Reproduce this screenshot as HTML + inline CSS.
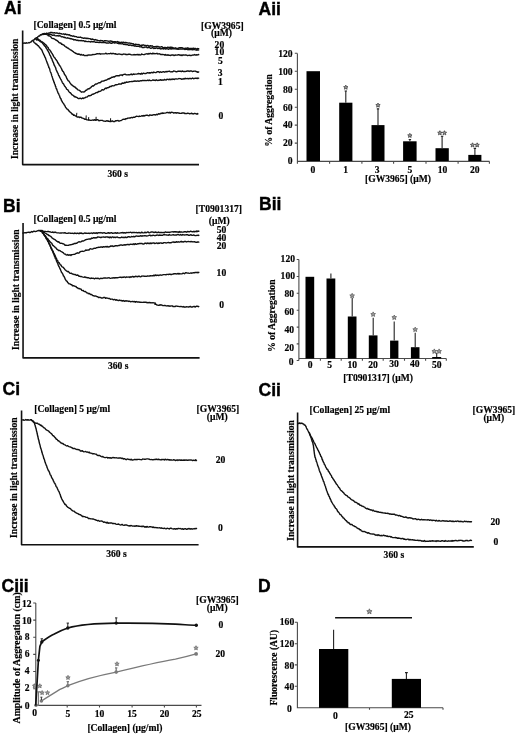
<!DOCTYPE html>
<html><head><meta charset="utf-8">
<style>
html,body{margin:0;padding:0;background:#fff;}
body{width:520px;height:737px;overflow:hidden;}
svg{display:block;will-change:transform;}
.t{font-family:"Liberation Serif",serif;font-weight:bold;font-size:9.6px;fill:#000;stroke:#000;stroke-width:0.18px;}
.L{font-family:"Liberation Sans",sans-serif;font-weight:bold;font-size:17.5px;fill:#000;stroke:#000;stroke-width:0.4px;}
.c{fill:none;stroke:#111;stroke-width:1.4;stroke-linejoin:round;stroke-linecap:round;}
.ax{fill:none;stroke:#4a4a4a;stroke-width:1.1;}
.axT{fill:none;stroke:#111;stroke-width:1.6;stroke-linejoin:round;}
.bar{fill:#000;}
.eb{fill:none;stroke:#222;stroke-width:1.1;}
</style></head><body>
<svg width="520" height="737" viewBox="0 0 520 737">
<text class="L" x="4" y="13.8">Ai</text>
<text class="t" x="33.5" y="27.5">[Collagen] 0.5 &#956;g/ml</text>
<text class="t" x="201" y="28.6">[GW3965]</text>
<text class="t" x="211" y="36.3">(&#956;M)</text>
<text class="t" x="214.6" y="47.6">20</text>
<text class="t" x="214.6" y="55.1">10</text>
<text class="t" x="218" y="64.2">5</text>
<text class="t" x="217.8" y="75.9">3</text>
<text class="t" x="218" y="85">1</text>
<text class="t" x="218.5" y="118.8">0</text>
<text class="t" transform="translate(18.3,159.1) rotate(-90)" style="font-size:9.6px">Increase in light transmission</text>
<text class="t" x="107.4" y="177.3">360 s</text>
<path class="axT" d="M22.65,30.5 V164.6 H199"/>
<polyline class="c" points="23.00,43.30 23.54,43.11 24.29,42.92 25.18,43.33 26.16,42.76 27.15,43.12 28.10,42.89 28.94,42.52 29.60,42.81 30.69,41.97 31.29,41.80 31.90,40.91 32.67,40.35 33.43,40.04 34.20,39.79 34.97,38.59 35.73,38.11 36.50,37.91 37.22,37.64 37.94,36.74 38.80,36.01 39.54,36.07 40.33,34.75 41.24,35.03 42.30,34.11 43.03,33.78 43.86,33.57 44.75,33.57 45.66,33.87 46.55,33.16 47.38,33.39 48.10,33.33 49.06,32.92 49.80,32.95 50.54,32.43 51.50,32.40 52.18,32.54 52.92,33.00 53.70,32.81 54.53,32.77 55.41,33.09 56.33,33.06 57.30,33.02 58.02,33.54 58.77,33.54 59.56,33.23 60.37,33.62 61.21,33.69 62.05,34.11 62.90,34.10 63.74,33.83 64.58,34.59 65.40,33.96 66.21,34.38 67.00,34.85 67.80,34.48 68.59,34.96 69.38,34.75 70.18,35.50 70.99,35.78 71.81,35.80 72.65,36.26 73.50,35.93 74.26,36.43 75.00,36.49 75.71,36.62 76.42,36.64 77.15,37.13 77.91,37.37 78.71,37.09 79.58,37.41 80.52,37.04 81.56,37.79 82.70,37.93 83.35,38.35 84.02,38.31 84.72,37.95 85.45,38.17 86.20,38.55 86.97,38.10 87.77,38.63 88.58,38.51 89.41,38.60 90.25,38.69 91.10,39.47 91.97,39.03 92.85,39.28 93.73,39.55 94.62,40.11 95.52,39.53 96.42,39.99 97.32,40.21 98.21,40.63 99.11,40.68 100.00,40.83 100.75,40.38 101.52,40.59 102.29,40.61 103.08,41.15 103.87,41.29 104.67,40.62 105.48,40.71 106.29,40.82 107.11,40.88 107.94,41.16 108.76,41.31 109.59,41.07 110.41,40.89 111.24,41.31 112.06,41.32 112.89,41.56 113.71,41.96 114.52,41.78 115.33,41.68 116.13,41.84 116.92,41.96 117.71,41.47 118.48,42.30 119.25,42.27 120.00,42.44 120.88,42.47 121.75,42.22 122.61,42.34 123.46,42.19 124.31,42.79 125.14,42.40 125.97,42.54 126.79,42.80 127.60,42.89 128.41,43.18 129.22,43.06 130.03,43.15 130.83,43.42 131.63,43.50 132.44,43.87 133.24,43.69 134.04,44.58 134.85,44.47 135.66,44.17 136.48,44.37 137.30,44.56 138.12,44.68 138.95,44.56 139.77,45.31 140.60,45.53 141.42,45.14 142.24,45.25 143.07,44.98 143.89,45.07 144.71,45.37 145.54,45.38 146.36,45.97 147.19,45.44 148.01,45.39 148.83,46.30 149.66,46.00 150.48,45.72 151.30,46.15 152.13,45.76 152.95,46.28 153.78,46.76 154.60,46.73 155.42,46.65 156.25,46.33 157.07,46.49 157.90,46.38 158.72,47.00 159.54,46.85 160.37,47.14 161.19,46.81 162.01,46.78 162.84,47.37 163.66,47.59 164.49,47.54 165.31,47.56 166.13,47.63 166.96,47.61 167.78,47.21 168.60,47.52 169.43,47.43 170.25,47.19 171.08,47.23 171.90,47.50 172.73,47.52 173.58,47.95 174.44,48.22 175.31,47.80 176.19,48.27 177.07,48.34 177.96,48.34 178.84,47.83 179.72,47.72 180.60,47.74 181.47,47.74 182.33,47.76 183.18,48.16 184.01,48.42 184.83,48.39 185.62,48.08 186.39,48.25 187.14,48.41 187.86,47.78 188.54,48.32 189.20,48.57 190.39,48.50 191.53,48.52 192.61,48.33 193.63,48.11 194.58,48.72 195.46,48.36 196.27,48.83 197.01,49.02 197.66,48.55 198.22,48.58 198.70,48.70"/>
<polyline class="c" points="48.10,34.30 48.57,34.77 49.14,34.66 49.80,34.25 50.54,34.32 51.35,34.45 52.22,35.25 53.12,35.29 54.06,34.84 55.01,35.60 55.97,35.89 56.92,35.75 57.85,35.63 58.75,35.98 59.60,35.77 60.44,35.84 61.30,36.90 62.19,36.82 63.08,36.92 63.98,37.52 64.87,37.30 65.76,37.93 66.64,38.12 67.49,37.79 68.31,38.05 69.10,38.29 69.85,38.44 70.55,38.92 71.20,38.78 72.30,39.18 73.19,39.11 73.93,39.96 74.60,39.58 75.27,39.79 76.01,40.03 76.90,40.46 77.58,40.15 78.26,40.71 78.94,40.46 79.64,40.61 80.37,40.73 81.15,40.40 81.99,40.90 82.90,40.79 83.90,40.74 85.00,41.57 85.66,41.07 86.34,41.39 87.04,41.68 87.77,41.58 88.53,41.43 89.30,41.66 90.10,41.74 90.92,42.00 91.76,41.45 92.61,41.91 93.48,41.68 94.37,41.76 95.28,42.26 96.20,42.08 97.13,42.18 98.08,42.42 99.03,42.61 100.00,42.25 100.71,42.44 101.44,42.39 102.18,42.43 102.95,42.64 103.72,42.46 104.51,42.57 105.31,42.55 106.12,43.01 106.94,42.83 107.77,43.02 108.60,43.12 109.44,42.54 110.28,42.86 111.12,43.24 111.95,43.19 112.79,42.61 113.63,42.64 114.45,42.98 115.28,42.71 116.09,42.91 116.90,42.83 117.69,43.43 118.48,43.60 119.25,43.78 120.00,43.19 120.88,43.80 121.75,43.86 122.61,43.51 123.46,44.31 124.31,44.52 125.14,43.98 125.97,44.79 126.79,44.44 127.60,44.67 128.41,45.28 129.22,45.29 130.03,44.84 130.83,45.24 131.63,45.47 132.44,45.46 133.24,45.47 134.04,45.73 134.85,46.23 135.66,45.73 136.48,46.33 137.30,46.35 138.12,46.08 138.95,46.47 139.77,46.84 140.60,46.84 141.42,46.53 142.24,47.46 143.07,47.38 143.89,47.64 144.71,46.95 145.54,47.18 146.36,47.06 147.19,47.81 148.01,47.43 148.83,47.38 149.66,47.72 150.48,48.23 151.30,48.22 152.13,47.79 152.95,47.76 153.78,48.51 154.60,48.26 155.42,48.44 156.25,47.95 157.07,47.97 157.90,48.59 158.72,48.40 159.54,48.13 160.37,48.95 161.19,48.72 162.01,48.91 162.84,48.30 163.66,49.03 164.49,48.35 165.31,49.10 166.13,48.76 166.96,48.68 167.78,48.91 168.60,49.27 169.43,48.71 170.25,48.61 171.08,49.00 171.90,48.76 172.73,48.68 173.58,48.75 174.44,48.67 175.31,48.83 176.19,48.95 177.07,48.97 177.96,49.39 178.84,48.99 179.72,49.19 180.60,48.92 181.47,49.09 182.33,48.81 183.18,49.03 184.01,48.84 184.83,49.50 185.62,49.35 186.39,49.04 187.14,49.32 187.86,49.75 188.54,49.02 189.20,49.69 190.39,49.38 191.53,49.49 192.61,49.84 193.63,49.50 194.58,49.65 195.46,49.87 196.27,50.18 197.01,49.66 197.66,50.14 198.22,50.06 198.70,49.90"/>
<polyline class="c" points="42.30,34.30 42.91,34.46 43.77,34.29 44.78,34.31 45.86,34.21 46.90,34.57 47.63,34.82 48.37,35.81 49.14,35.81 49.92,36.21 50.70,36.64 51.50,37.82 52.30,38.33 53.01,38.57 53.72,38.64 54.45,39.03 55.18,39.51 55.91,40.10 56.65,40.27 57.38,40.99 58.10,41.29 58.82,42.39 59.53,42.89 60.24,43.01 60.95,43.24 61.66,44.40 62.37,44.32 63.08,44.87 63.80,45.05 64.52,45.90 65.24,46.49 65.97,47.02 66.69,47.26 67.42,48.04 68.15,48.09 68.87,48.81 69.60,49.13 70.32,49.88 71.05,50.04 71.77,50.50 72.50,51.22 73.22,51.60 73.95,52.34 74.67,52.68 75.40,53.23 76.23,53.49 77.06,53.84 77.89,54.25 78.72,54.04 79.55,54.19 80.38,54.97 81.20,54.38 82.00,55.06 82.77,55.13 83.52,54.71 84.29,55.52 85.10,55.64 85.96,55.43 86.90,55.51 87.58,55.54 88.26,54.86 88.94,55.10 89.64,54.96 90.37,55.13 91.15,54.96 91.99,54.84 92.90,54.49 93.90,54.65 95.00,54.36 95.67,54.33 96.39,53.86 97.16,53.64 97.97,53.68 98.81,53.84 99.67,53.56 100.56,54.18 101.47,53.89 102.38,53.91 103.30,53.87 104.21,53.89 105.11,53.68 106.00,53.22 106.87,53.91 107.71,53.85 108.51,53.61 109.28,53.63 110.00,53.74 110.99,53.22 111.87,53.84 112.68,53.44 113.43,53.33 114.15,53.56 114.86,54.04 115.57,53.63 116.31,54.18 117.10,54.46 117.97,54.09 118.93,54.04 120.00,54.18 120.67,54.39 121.36,54.50 122.09,54.40 122.84,54.46 123.61,53.98 124.41,54.09 125.23,54.22 126.06,54.70 126.90,54.34 127.76,54.61 128.63,54.15 129.50,54.22 130.38,54.44 131.26,54.83 132.14,54.86 133.02,54.87 133.90,54.53 134.76,54.74 135.62,54.69 136.47,54.68 137.30,54.36 138.14,55.03 138.99,54.37 139.86,55.02 140.75,54.92 141.64,54.03 142.55,54.35 143.45,54.60 144.36,54.65 145.26,54.09 146.16,53.84 147.04,53.70 147.91,54.28 148.77,53.53 149.60,53.79 150.42,53.32 151.20,53.60 151.95,53.93 152.67,53.14 153.36,53.72 154.00,53.42 154.60,53.75 155.94,53.62 156.97,53.30 157.80,54.06 158.48,53.88 159.11,53.66 159.77,53.84 160.54,54.46 161.50,54.56 162.17,54.48 162.84,54.40 163.52,54.63 164.22,54.66 164.93,55.17 165.67,54.46 166.44,55.17 167.24,55.28 168.08,54.66 168.96,55.42 169.88,55.25 170.86,55.44 171.90,54.91 172.58,55.00 173.31,55.02 174.08,55.58 174.88,55.22 175.71,55.02 176.57,55.08 177.44,54.95 178.34,54.75 179.24,54.80 180.15,55.46 181.06,54.96 181.97,55.55 182.87,54.93 183.76,54.94 184.62,55.15 185.47,54.86 186.29,55.02 187.08,55.54 187.83,55.46 188.54,55.39 189.20,55.22 190.39,55.45 191.53,55.44 192.61,55.05 193.63,55.16 194.58,54.52 195.46,55.09 196.27,54.79 197.01,55.02 197.66,54.88 198.22,54.53 198.70,54.70"/>
<polyline class="c" points="36.50,37.80 36.76,37.77 37.70,39.38 38.18,38.99 38.77,39.68 39.45,39.99 40.19,40.41 40.95,41.29 41.71,42.00 42.43,41.87 43.10,42.74 43.71,42.93 44.31,43.68 44.88,44.05 45.45,44.39 46.01,44.95 46.57,45.59 47.13,46.87 47.70,47.20 48.16,47.55 48.62,48.81 49.08,49.57 49.54,49.79 50.00,50.23 50.46,51.02 50.92,51.66 51.38,52.63 51.84,53.13 52.30,53.97 52.76,54.68 53.24,55.67 53.71,56.66 54.19,57.25 54.67,57.65 55.14,58.35 55.60,59.14 56.05,59.69 56.48,60.31 56.90,60.71 57.38,61.65 57.83,62.97 58.24,62.88 58.65,63.88 59.06,64.66 59.47,65.56 59.92,65.73 60.40,66.59 60.78,67.22 61.17,68.04 61.58,68.80 61.99,70.00 62.42,70.67 62.85,71.46 63.28,71.47 63.72,72.25 64.15,73.62 64.58,74.53 65.00,74.88 65.45,75.76 65.90,76.03 66.34,77.17 66.78,78.44 67.22,79.12 67.67,79.91 68.13,80.76 68.60,80.83 69.09,81.39 69.60,82.09 70.19,83.10 70.79,83.89 71.40,84.72 72.04,85.10 72.68,85.59 73.34,86.23 74.01,86.49 74.70,87.11 75.40,87.19 76.06,88.37 76.75,88.43 77.46,89.62 78.19,89.95 78.93,90.19 79.65,90.55 80.36,91.12 81.05,91.85 81.70,92.20 82.30,91.85 83.16,91.86 83.87,92.07 84.52,91.74 85.19,91.04 85.96,90.28 86.90,89.99 87.44,89.13 88.02,89.02 88.62,88.75 89.24,88.77 89.89,88.04 90.56,87.79 91.26,86.95 91.97,86.26 92.70,85.80 93.45,85.98 94.22,85.31 95.00,84.53 95.69,83.92 96.42,84.00 97.18,83.81 97.95,83.24 98.75,82.75 99.56,82.78 100.37,82.68 101.18,81.72 101.99,81.22 102.80,81.17 103.58,80.93 104.35,80.86 105.09,80.12 105.80,80.37 106.66,79.95 107.50,79.38 108.30,78.75 109.09,79.09 109.85,78.16 110.61,78.30 111.36,77.45 112.11,77.14 112.86,77.35 113.62,76.66 114.40,77.01 115.19,76.37 116.00,75.88 116.81,75.73 117.63,75.72 118.45,75.79 119.26,75.89 120.06,75.04 120.85,75.13 121.63,74.85 122.38,75.43 123.10,74.58 124.05,74.38 124.94,74.29 125.80,74.52 126.64,74.92 127.46,74.87 128.29,74.69 129.13,74.89 130.00,74.79 130.74,74.21 131.40,74.06 132.03,74.73 132.67,74.55 133.35,73.90 134.11,74.44 135.00,74.15 136.05,74.08 137.30,73.95 137.91,73.75 138.56,73.54 139.25,73.73 139.97,73.72 140.73,74.18 141.51,73.35 142.33,74.03 143.16,73.26 144.01,73.30 144.88,73.62 145.77,73.53 146.66,73.09 147.56,72.65 148.46,72.94 149.37,72.75 150.26,73.16 151.16,72.42 152.04,72.49 152.91,72.89 153.77,72.04 154.60,72.32 155.42,72.62 156.25,72.52 157.07,71.81 157.90,71.75 158.72,71.72 159.54,72.45 160.37,71.80 161.19,72.19 162.01,72.29 162.84,71.74 163.66,71.64 164.49,72.21 165.31,71.87 166.13,71.51 166.96,71.89 167.78,71.49 168.60,71.42 169.43,71.14 170.25,71.79 171.08,71.90 171.90,71.62 172.73,71.87 173.58,71.02 174.44,71.18 175.31,71.37 176.19,71.78 177.07,71.75 177.96,71.22 178.84,71.07 179.72,71.21 180.60,71.25 181.47,71.63 182.33,70.94 183.18,71.49 184.01,71.42 184.83,71.49 185.62,71.43 186.39,71.28 187.14,71.03 187.86,71.02 188.54,71.07 189.20,71.45 190.39,70.85 191.53,71.00 192.61,71.57 193.63,71.18 194.58,71.10 195.46,71.15 196.27,71.70 197.01,71.58 197.66,72.23 198.22,72.20 198.70,71.90"/>
<polyline class="c" points="35.50,38.80 36.70,40.14 37.24,39.77 37.91,39.92 38.68,40.29 39.50,41.05 40.34,41.69 41.15,41.97 41.90,42.36 42.44,43.02 42.96,43.74 43.47,44.35 43.98,45.02 44.48,45.74 44.98,46.26 45.48,46.49 45.99,47.90 46.50,48.21 46.89,49.11 47.29,49.63 47.70,50.70 48.11,50.98 48.52,51.82 48.93,52.63 49.33,53.36 49.73,54.83 50.11,55.37 50.49,55.93 50.85,56.77 51.20,58.04 51.59,58.46 51.96,59.05 52.31,60.39 52.65,61.06 52.98,62.16 53.30,62.15 53.61,63.28 53.93,64.38 54.26,65.20 54.60,66.07 54.91,66.02 55.22,66.97 55.52,67.54 55.82,68.32 56.12,69.75 56.43,70.12 56.74,71.16 57.06,71.40 57.40,72.59 57.74,72.98 58.10,73.58 58.44,74.78 58.79,75.68 59.14,75.69 59.51,76.91 59.88,77.72 60.26,78.15 60.64,79.07 61.04,79.65 61.44,80.49 61.85,81.30 62.27,82.36 62.70,83.14 63.14,83.46 63.60,84.01 64.07,85.01 64.55,86.05 65.04,86.32 65.53,87.13 66.03,87.72 66.53,88.92 67.03,89.35 67.53,89.54 68.02,90.17 68.50,91.01 69.13,91.87 69.75,92.63 70.36,92.79 70.97,93.47 71.58,94.52 72.21,94.81 72.85,95.20 73.51,95.69 74.20,96.71 74.93,96.54 75.69,97.14 76.49,97.30 77.29,97.67 78.11,98.35 78.91,98.69 79.71,98.30 80.47,98.27 81.20,98.81 82.06,98.31 82.85,97.99 83.61,98.56 84.36,97.83 85.13,97.84 85.97,97.09 86.90,97.14 87.59,96.50 88.27,95.97 88.96,95.56 89.67,95.75 90.42,95.51 91.21,95.42 92.05,94.32 92.95,94.41 93.93,93.75 95.00,93.40 95.61,92.81 96.26,92.64 96.94,92.54 97.66,92.57 98.40,91.49 99.16,91.47 99.95,91.39 100.74,91.16 101.55,90.09 102.36,89.64 103.18,90.00 103.99,89.66 104.79,88.85 105.58,88.11 106.35,88.55 107.11,87.75 107.84,87.90 108.53,87.37 109.20,87.29 110.13,86.35 111.02,86.61 111.89,85.83 112.72,85.74 113.54,85.91 114.33,85.68 115.10,84.91 115.87,84.75 116.62,84.74 117.37,84.67 118.11,84.37 118.85,83.95 119.60,83.87 120.48,84.07 121.34,84.00 122.19,83.00 123.03,83.25 123.85,83.21 124.67,82.35 125.48,82.87 126.29,82.04 127.09,82.29 127.90,82.09 128.70,82.01 129.54,81.59 130.31,81.58 131.04,81.63 131.76,81.42 132.49,81.56 133.26,81.31 134.10,81.25 135.03,80.82 136.09,81.28 137.30,81.09 137.94,80.82 138.61,81.26 139.31,81.23 140.05,80.90 140.82,80.60 141.61,80.83 142.42,80.45 143.26,80.43 144.11,80.66 144.97,80.31 145.85,80.58 146.73,80.60 147.62,80.13 148.51,80.63 149.40,80.08 150.29,80.63 151.18,80.62 152.05,80.34 152.92,79.88 153.77,80.25 154.60,80.09 155.42,80.56 156.25,79.79 157.07,80.39 157.90,80.47 158.72,80.19 159.54,80.22 160.37,79.62 161.19,80.29 162.01,79.80 162.84,80.18 163.66,80.10 164.49,79.38 165.31,79.90 166.13,79.98 166.96,79.16 167.78,79.37 168.60,79.70 169.43,79.12 170.25,79.74 171.08,79.14 171.90,79.58 172.73,78.94 173.58,79.22 174.44,79.55 175.31,78.87 176.19,78.88 177.07,79.06 177.96,78.85 178.84,78.55 179.72,78.64 180.60,78.58 181.47,79.24 182.33,78.97 183.18,79.13 184.01,78.44 184.83,78.95 185.62,78.31 186.39,78.65 187.14,78.72 187.86,78.43 188.54,78.87 189.20,78.55 190.39,78.52 191.53,78.74 192.61,78.00 193.63,78.75 194.58,78.39 195.46,78.14 196.27,78.47 197.01,77.96 197.66,78.58 198.22,78.19 198.70,78.10"/>
<polyline class="c" points="33.00,40.80 33.42,41.24 34.07,42.43 35.00,43.15 35.53,43.38 36.16,44.39 36.85,44.30 37.57,45.56 38.29,45.66 38.98,46.65 39.60,47.64 40.09,47.90 40.55,48.62 41.00,48.97 41.42,49.40 41.84,50.16 42.26,51.03 42.67,52.26 43.10,52.94 43.44,53.72 43.78,54.81 44.12,54.90 44.46,55.78 44.80,56.98 45.14,57.24 45.48,58.07 45.82,59.24 46.16,59.88 46.50,60.97 46.79,61.58 47.08,62.63 47.37,63.37 47.66,63.77 47.95,64.91 48.24,65.53 48.54,66.00 48.83,67.50 49.12,67.66 49.42,68.37 49.71,69.12 50.00,70.42 50.27,71.40 50.54,72.10 50.81,72.55 51.08,73.24 51.35,73.83 51.62,75.22 51.89,75.97 52.16,76.60 52.43,77.68 52.70,78.31 52.97,79.55 53.23,80.15 53.50,80.47 53.78,81.87 54.06,81.89 54.34,83.11 54.61,83.77 54.89,84.38 55.16,84.97 55.44,86.37 55.72,86.43 56.00,87.67 56.29,88.77 56.59,88.81 56.90,89.63 57.22,90.78 57.54,91.48 57.88,92.40 58.22,93.36 58.56,93.59 58.91,94.52 59.26,95.30 59.61,95.86 59.97,97.38 60.31,98.04 60.66,98.70 61.00,98.76 61.40,100.31 61.80,101.00 62.19,101.49 62.58,102.46 62.97,102.91 63.36,103.39 63.76,103.94 64.16,104.70 64.58,105.16 65.00,106.05 65.55,107.18 66.11,107.85 66.68,108.68 67.26,109.23 67.85,109.48 68.44,110.36 69.02,110.86 69.60,111.76 70.26,112.17 70.94,112.58 71.61,113.53 72.28,114.40 72.94,114.25 73.58,115.33 74.20,114.96 75.01,115.63 75.77,115.93 76.51,116.62 77.25,116.99 78.00,117.02 78.77,116.85 79.55,117.51 80.34,117.17 81.12,117.25 81.90,118.07 82.66,118.09 83.39,118.45 84.13,118.75 84.92,119.35 85.80,119.17 86.62,119.73 87.52,119.83 88.46,120.18 89.40,120.00 90.33,120.40 91.20,120.36 92.15,120.14 93.03,119.97 93.89,120.22 94.80,119.63 95.80,120.37 96.56,119.74 97.34,119.73 98.14,119.93 98.98,120.81 99.88,120.43 100.85,120.37 101.90,120.38 102.63,120.44 103.42,121.08 104.25,121.08 105.12,121.19 106.01,121.27 106.91,120.70 107.81,121.21 108.70,121.04 109.57,121.47 110.41,121.48 111.20,121.55 112.13,120.81 113.03,121.52 113.91,121.54 114.77,121.54 115.61,120.75 116.43,120.79 117.24,120.64 118.03,120.48 118.80,121.11 119.60,120.95 120.31,120.63 120.96,120.63 121.61,120.26 122.29,119.74 123.05,119.35 123.94,119.10 125.00,119.43 125.63,118.78 126.30,118.72 126.99,118.65 127.71,118.10 128.46,118.13 129.24,117.96 130.04,118.15 130.87,117.64 131.73,117.40 132.60,117.78 133.50,117.18 134.42,117.31 135.36,116.92 136.32,116.23 137.30,116.42 138.02,116.34 138.77,116.55 139.55,116.07 140.36,116.30 141.19,116.07 142.03,115.70 142.89,116.20 143.76,115.43 144.64,116.01 145.52,115.35 146.40,115.13 147.29,115.24 148.16,115.67 149.03,115.79 149.89,114.84 150.73,115.20 151.56,115.13 152.36,115.32 153.13,114.69 153.88,114.88 154.60,114.66 155.55,114.97 156.46,114.31 157.32,114.77 158.15,114.01 158.95,113.78 159.73,114.05 160.49,113.70 161.24,113.19 161.98,113.50 162.73,112.85 163.48,113.35 164.25,113.14 165.04,113.12 165.85,112.88 166.70,112.57 167.47,112.57 168.23,112.54 169.00,112.97 169.77,112.24 170.55,112.97 171.34,112.21 172.13,112.40 172.92,112.49 173.73,113.10 174.54,112.78 175.37,112.72 176.21,113.22 177.06,112.69 177.92,112.94 178.80,113.05 179.69,113.29 180.60,113.33 181.37,113.26 182.19,113.03 183.04,113.04 183.94,112.93 184.86,113.59 185.80,113.47 186.76,113.58 187.72,113.11 188.68,113.40 189.64,113.75 190.59,113.62 191.52,113.26 192.42,113.60 193.29,114.02 194.12,113.48 194.90,113.48 195.63,113.61 196.31,114.01 196.91,114.16 197.45,113.57 197.90,113.90"/>
<path class="c" style="stroke-width:1" d="M76.5,116.6 L76.8,113.2 M86,119.3 L86.2,115.8 M88.5,119.8 L88.7,117.5 M96,120.1 L96.1,117.2 M110.5,121.2 L110.6,118.6"/>
<text class="L" x="258.5" y="14.9">Aii</text>
<text class="t" transform="translate(272.3,146.5) rotate(-90)" style="font-size:9.6px">% of Aggregation</text>
<g class="t" text-anchor="end">
<text x="292.6" y="56.6">120</text>
<text x="292.6" y="74.5">100</text>
<text x="292.6" y="92.5">80</text>
<text x="292.6" y="110.5">60</text>
<text x="292.6" y="128.4">40</text>
<text x="292.6" y="146.4">20</text>
<text x="292.6" y="164.3">0</text>
</g>
<path class="ax" d="M297.4,53.5 V161.4 H489.6 M294.8,53.3 H297.4 M294.8,71.2 H297.4 M294.8,89.2 H297.4 M294.8,107.2 H297.4 M294.8,125.1 H297.4 M294.8,143.1 H297.4 M297.4,161.4 V163.8 M329.6,161.4 V163.8 M361.9,161.4 V163.8 M393.6,161.4 V163.8 M426,161.4 V163.8 M458.1,161.4 V163.8 M489.4,161.4 V163.8"/>
<rect class="bar" x="306.5" y="71.2" width="13.5" height="89.8"/>
<rect class="bar" x="339.2" y="102.7" width="13.2" height="58.3"/>
<path class="eb" d="M345.8,102.7 V91.0 M344.6,91.0 H347.0"/>
<polygon points="345.80,85.10 346.45,86.51 347.99,86.69 346.85,87.74 347.15,89.26 345.80,88.50 344.45,89.26 344.75,87.74 343.61,86.69 345.15,86.51" fill="#999" stroke="#333" stroke-width="0.7" stroke-linejoin="round"/>
<rect class="bar" x="371.5" y="125.1" width="13" height="35.9"/>
<path class="eb" d="M378.0,125.1 V108.9 M376.8,108.9 H379.2"/>
<polygon points="378.00,103.00 378.65,104.41 380.19,104.59 379.05,105.64 379.35,107.16 378.00,106.40 376.65,107.16 376.95,105.64 375.81,104.59 377.35,104.41" fill="#999" stroke="#333" stroke-width="0.7" stroke-linejoin="round"/>
<rect class="bar" x="403.1" y="141.3" width="13.5" height="19.7"/>
<path class="eb" d="M409.9,141.3 V139.5 M408.7,139.5 H411.1"/>
<polygon points="409.85,133.30 410.50,134.71 412.04,134.89 410.90,135.94 411.20,137.46 409.85,136.70 408.50,137.46 408.80,135.94 407.66,134.89 409.20,134.71" fill="#999" stroke="#333" stroke-width="0.7" stroke-linejoin="round"/>
<rect class="bar" x="435.5" y="148.2" width="13.3" height="12.8"/>
<path class="eb" d="M442.1,148.2 V136.3 M440.9,136.3 H443.3"/>
<polygon points="439.85,130.70 440.50,132.11 442.04,132.29 440.90,133.34 441.20,134.86 439.85,134.10 438.50,134.86 438.80,133.34 437.66,132.29 439.20,132.11" fill="#999" stroke="#333" stroke-width="0.7" stroke-linejoin="round"/><polygon points="444.45,130.70 445.10,132.11 446.64,132.29 445.50,133.34 445.80,134.86 444.45,134.10 443.10,134.86 443.40,133.34 442.26,132.29 443.80,132.11" fill="#999" stroke="#333" stroke-width="0.7" stroke-linejoin="round"/>
<rect class="bar" x="468.3" y="154.9" width="13.1" height="6.1"/>
<path class="eb" d="M474.9,154.9 V148.4 M473.7,148.4 H476.1"/>
<polygon points="472.55,142.80 473.20,144.21 474.74,144.39 473.60,145.44 473.90,146.96 472.55,146.20 471.20,146.96 471.50,145.44 470.36,144.39 471.90,144.21" fill="#999" stroke="#333" stroke-width="0.7" stroke-linejoin="round"/><polygon points="477.15,142.80 477.80,144.21 479.34,144.39 478.20,145.44 478.50,146.96 477.15,146.20 475.80,146.96 476.10,145.44 474.96,144.39 476.50,144.21" fill="#999" stroke="#333" stroke-width="0.7" stroke-linejoin="round"/>
<g class="t" text-anchor="middle">
<text x="313" y="172.5">0</text>
<text x="345.6" y="172.5">1</text>
<text x="377.2" y="172.5">3</text>
<text x="410" y="172.5">5</text>
<text x="442.6" y="172.5">10</text>
<text x="474.7" y="172.5">20</text>
</g>
<text class="t" x="365" y="182">[GW3965] (&#956;M)</text>
<text class="L" x="3" y="212">Bi</text>
<text class="t" x="33.5" y="222">[Collagen] 0.5 &#956;g/ml</text>
<text class="t" x="195.6" y="212.4">[T0901317]</text>
<text class="t" x="208.8" y="224">(&#956;M)</text>
<text class="t" x="216.8" y="233.4">50</text>
<text class="t" x="216.8" y="241.1">40</text>
<text class="t" x="216.8" y="249.2">20</text>
<text class="t" x="216.6" y="276">10</text>
<text class="t" x="219.2" y="308">0</text>
<text class="t" transform="translate(18.9,349.9) rotate(-90)" style="font-size:9.6px">Increase in light transmission</text>
<text class="t" x="108" y="368.7">360 s</text>
<path class="axT" d="M23.05,223 V357.9 H199.6"/>
<polyline class="c" points="23.00,233.10 23.34,232.87 25.20,232.77 25.74,232.76 26.39,232.83 27.14,232.37 27.96,232.38 28.85,232.10 29.78,232.64 30.74,232.25 31.71,231.51 32.67,232.12 33.60,231.17 34.50,231.27 35.33,231.67 36.09,231.37 36.75,231.20 37.30,230.84 38.61,230.37 38.87,230.72 39.90,230.35 40.49,230.49 41.15,230.72 41.87,230.48 42.66,230.91 43.50,231.37 44.40,231.39 45.33,231.34 46.31,231.58 47.31,231.54 48.35,231.37 49.40,231.89 50.10,231.78 50.81,232.16 51.55,232.38 52.30,232.03 53.06,232.24 53.84,232.48 54.64,232.26 55.45,232.17 56.28,232.69 57.11,232.91 57.97,232.89 58.83,232.89 59.70,233.09 60.59,233.00 61.48,233.03 62.39,232.91 63.30,232.83 64.05,233.15 64.82,232.70 65.59,233.02 66.38,233.38 67.18,233.34 68.00,233.29 68.81,232.96 69.64,233.14 70.48,233.18 71.32,233.35 72.16,233.17 73.01,233.42 73.86,233.66 74.71,232.99 75.56,233.42 76.41,233.54 77.25,233.19 78.10,233.29 78.94,233.73 79.77,232.88 80.60,233.34 81.43,232.99 82.27,233.55 83.12,233.68 83.97,233.29 84.83,232.90 85.69,233.32 86.56,233.27 87.42,233.41 88.29,233.21 89.15,233.30 90.00,233.45 90.85,233.16 91.69,233.04 92.52,233.50 93.34,232.82 94.14,233.23 94.93,232.95 95.70,233.27 96.46,232.68 97.19,233.44 97.90,232.87 98.81,232.59 99.61,232.79 100.31,232.90 100.94,232.55 101.53,232.92 102.09,232.93 102.65,233.19 103.23,232.88 103.87,232.81 104.57,232.78 105.37,233.25 106.29,233.42 107.36,233.05 108.58,232.76 110.00,233.27 110.57,232.90 111.16,232.73 111.77,232.65 112.40,233.22 113.05,233.24 113.72,233.08 114.40,232.92 115.11,232.99 115.83,232.68 116.57,233.33 117.32,232.77 118.09,233.02 118.87,233.17 119.67,233.15 120.47,232.83 121.29,232.66 122.12,232.88 122.96,232.48 123.81,233.11 124.67,232.66 125.54,233.10 126.42,232.56 127.30,232.64 128.18,232.52 129.08,232.66 129.98,232.43 130.88,232.25 131.78,232.88 132.69,232.47 133.60,232.42 134.51,232.46 135.42,232.61 136.33,232.55 137.23,232.72 138.14,232.73 139.04,232.45 139.95,232.94 140.84,232.86 141.73,232.13 142.62,232.81 143.50,232.87 144.26,232.74 145.02,232.15 145.80,232.76 146.60,232.57 147.40,232.01 148.21,231.99 149.03,232.83 149.87,232.55 150.70,232.17 151.55,232.02 152.40,232.05 153.26,232.12 154.12,232.60 154.99,232.20 155.86,232.01 156.73,232.67 157.61,232.56 158.49,231.99 159.36,232.63 160.24,232.36 161.12,232.50 161.99,232.39 162.87,232.58 163.74,232.47 164.60,232.50 165.47,231.92 166.32,232.35 167.18,232.19 168.02,232.37 168.86,232.08 169.69,232.47 170.51,232.16 171.32,231.89 172.13,231.85 172.92,231.75 173.70,232.05 174.46,231.65 175.22,232.00 175.96,231.70 176.69,232.00 177.40,231.99 178.10,232.02 178.77,232.29 179.44,231.51 180.08,232.25 180.71,231.90 181.31,231.97 181.90,232.05 183.19,232.17 184.42,231.72 185.59,231.73 186.71,232.18 187.77,231.34 188.79,231.81 189.75,231.77 190.67,231.18 191.53,231.67 192.36,231.70 193.13,231.88 193.87,231.30 194.56,231.85 195.21,231.39 195.83,231.34 196.41,231.68 196.95,230.87 197.46,231.46 197.94,231.35 198.38,231.07 198.80,231.20"/>
<polyline class="c" points="39.90,230.70 40.26,231.00 41.60,231.08 42.08,231.43 42.66,231.77 43.31,232.34 44.03,232.22 44.78,232.83 45.57,233.26 46.37,233.83 47.17,234.53 47.95,234.51 48.70,235.45 49.40,235.51 50.13,236.10 50.84,236.41 51.53,237.16 52.22,238.14 52.90,238.40 53.58,239.07 54.25,239.19 54.93,239.70 55.61,240.17 56.30,240.88 57.09,241.39 57.90,241.98 58.73,241.75 59.55,242.77 60.37,243.31 61.16,243.36 61.92,243.24 62.64,243.76 63.30,243.76 64.28,244.30 65.05,245.24 65.76,245.15 66.56,245.27 67.60,245.36 68.30,245.40 69.05,245.03 69.84,244.90 70.68,244.74 71.56,244.60 72.48,244.28 73.42,244.11 74.40,243.42 75.40,243.55 76.11,243.15 76.84,243.19 77.59,242.34 78.35,242.14 79.13,241.73 79.93,242.10 80.74,241.93 81.56,241.40 82.39,240.85 83.23,240.97 84.08,240.66 84.94,240.20 85.80,239.68 86.57,239.52 87.37,239.42 88.19,239.12 89.04,239.01 89.89,239.00 90.76,239.06 91.62,238.08 92.49,238.35 93.34,237.70 94.17,237.60 94.99,238.06 95.77,237.71 96.52,237.89 97.23,237.35 97.90,236.86 98.94,237.07 99.74,237.20 100.40,237.50 101.01,237.57 101.67,237.16 102.49,237.16 103.57,236.92 105.00,237.43 105.57,237.04 106.18,236.99 106.82,236.87 107.50,236.87 108.21,237.49 108.95,236.99 109.71,237.76 110.50,236.98 111.31,237.70 112.14,237.04 112.98,236.95 113.84,237.59 114.70,237.17 115.58,237.62 116.46,237.13 117.34,237.01 118.23,237.66 119.11,237.60 119.99,237.72 120.85,237.59 121.71,237.00 122.56,237.47 123.39,237.52 124.20,237.26 125.00,237.65 125.81,237.00 126.61,237.60 127.41,237.32 128.22,236.63 129.02,236.58 129.82,237.09 130.63,237.17 131.43,236.44 132.24,236.58 133.04,236.88 133.85,236.30 134.66,236.85 135.46,236.44 136.27,235.98 137.07,236.18 137.88,236.30 138.68,236.11 139.48,236.25 140.29,235.71 141.09,236.23 141.89,235.78 142.70,235.98 143.50,235.92 144.30,235.68 145.10,235.60 145.90,235.92 146.71,236.02 147.51,235.83 148.31,235.60 149.11,235.31 149.91,235.06 150.71,235.85 151.51,235.57 152.31,235.65 153.11,235.17 153.91,235.38 154.71,235.69 155.50,235.52 156.30,235.29 157.10,235.00 157.90,235.08 158.70,235.46 159.50,234.98 160.30,235.23 161.10,235.14 161.90,235.38 162.70,235.28 163.50,234.78 164.31,234.51 165.12,234.73 165.93,234.85 166.74,234.98 167.55,235.17 168.37,235.22 169.19,234.45 170.00,235.15 170.82,235.11 171.63,235.15 172.44,234.88 173.25,234.60 174.06,235.11 174.87,235.07 175.67,234.95 176.47,235.15 177.26,234.64 178.05,234.41 178.83,234.83 179.61,235.05 180.38,234.52 181.14,235.02 181.90,235.19 182.77,234.57 183.67,234.92 184.58,235.01 185.51,234.84 186.45,234.64 187.39,234.71 188.33,235.19 189.27,235.26 190.19,235.00 191.10,234.70 191.99,235.38 192.86,235.39 193.70,234.94 194.50,235.29 195.27,235.61 195.99,235.63 196.67,235.33 197.29,235.32 197.86,235.44 198.36,235.10 198.80,235.40"/>
<polyline class="c" points="40.50,231.00 41.60,231.52 41.96,231.92 42.39,232.89 42.88,233.16 43.42,233.98 43.99,234.52 44.59,235.34 45.21,235.75 45.84,236.41 46.47,238.02 47.10,238.19 47.70,238.65 48.20,239.71 48.72,240.45 49.24,240.50 49.76,241.53 50.30,241.94 50.83,242.73 51.37,242.91 51.91,243.54 52.45,245.01 52.99,245.49 53.53,245.72 54.07,246.34 54.60,246.59 55.29,247.69 55.98,247.97 56.67,249.02 57.36,249.41 58.04,249.98 58.73,250.61 59.42,250.45 60.11,250.72 60.81,251.31 61.50,251.71 62.27,252.09 63.05,252.51 63.83,253.41 64.61,254.10 65.39,254.11 66.17,254.88 66.95,255.12 67.73,254.57 68.50,255.19 69.34,255.06 70.15,254.77 70.94,255.41 71.74,254.59 72.56,254.63 73.43,254.42 74.37,254.41 75.40,253.85 76.08,253.41 76.79,253.23 77.53,252.73 78.29,253.19 79.07,252.94 79.87,251.97 80.69,251.52 81.52,251.42 82.36,251.22 83.21,251.43 84.07,251.16 84.93,250.84 85.80,249.89 86.57,250.36 87.37,250.09 88.19,249.83 89.04,249.94 89.89,248.91 90.76,248.80 91.62,249.16 92.49,249.14 93.34,248.73 94.17,248.22 94.99,248.33 95.77,248.32 96.52,247.60 97.23,247.66 97.90,247.48 98.94,247.18 99.74,247.38 100.40,247.02 101.01,247.02 101.67,246.88 102.49,247.30 103.57,246.60 105.00,247.10 105.57,246.57 106.18,246.36 106.82,247.10 107.50,246.39 108.21,246.96 108.95,246.82 109.71,246.76 110.50,246.01 111.31,246.20 112.14,245.80 112.98,246.47 113.84,246.30 114.70,246.02 115.58,245.78 116.46,245.59 117.34,245.94 118.23,245.54 119.11,245.59 119.99,245.07 120.85,245.06 121.71,244.83 122.56,245.34 123.39,245.12 124.20,244.68 125.00,245.26 125.81,244.65 126.61,244.71 127.41,244.40 128.22,244.44 129.02,244.88 129.82,244.35 130.63,244.13 131.43,244.35 132.24,244.13 133.04,244.59 133.85,243.81 134.66,244.52 135.46,243.63 136.27,244.32 137.07,244.06 137.88,243.59 138.68,243.77 139.48,243.54 140.29,243.46 141.09,243.36 141.89,243.46 142.70,243.98 143.50,243.95 144.30,243.85 145.10,243.07 145.90,243.21 146.71,243.74 147.51,242.96 148.31,243.55 149.11,243.15 149.91,243.75 150.71,242.88 151.51,243.58 152.31,243.16 153.11,242.97 153.91,242.84 154.71,243.58 155.50,243.30 156.30,242.98 157.10,243.20 157.90,243.62 158.70,242.98 159.50,243.28 160.30,242.86 161.10,242.88 161.90,243.38 162.70,243.29 163.50,242.79 164.31,242.63 165.12,242.59 165.93,243.00 166.74,242.84 167.55,242.57 168.37,242.45 169.19,242.74 170.00,242.76 170.82,242.78 171.63,242.50 172.44,242.08 173.25,241.89 174.06,242.42 174.87,242.05 175.67,242.27 176.47,241.61 177.26,242.23 178.05,241.74 178.83,242.15 179.61,242.12 180.38,241.75 181.14,241.29 181.90,242.07 182.77,241.66 183.67,242.00 184.58,241.46 185.51,241.39 186.45,241.98 187.39,241.58 188.33,241.41 189.27,241.62 190.19,241.85 191.10,241.35 191.99,241.85 192.86,241.81 193.70,241.91 194.50,241.59 195.27,242.16 195.99,242.28 196.67,242.35 197.29,241.89 197.86,242.26 198.36,241.98 198.80,242.10"/>
<polyline class="c" points="41.00,231.20 41.43,231.33 42.50,231.71 42.80,232.88 43.15,233.49 43.54,233.68 43.96,234.37 44.40,235.11 44.87,235.89 45.35,236.23 45.83,237.91 46.31,238.07 46.79,238.88 47.25,239.63 47.70,240.58 48.07,241.78 48.44,241.77 48.81,242.55 49.19,243.83 49.56,244.12 49.93,244.71 50.30,245.99 50.67,246.73 51.04,247.44 51.41,248.37 51.79,248.59 52.16,250.04 52.53,250.65 52.90,250.79 53.27,251.61 53.63,252.69 53.98,253.46 54.34,254.02 54.69,254.65 55.04,255.67 55.39,256.19 55.75,257.35 56.12,258.34 56.49,258.42 56.87,259.53 57.27,260.38 57.68,260.54 58.10,261.79 58.58,262.59 59.07,262.77 59.58,263.47 60.10,264.50 60.63,264.86 61.17,265.37 61.72,266.47 62.27,266.91 62.82,267.09 63.37,267.55 63.92,268.16 64.46,268.76 65.00,269.73 65.68,270.16 66.35,270.80 67.01,271.21 67.67,271.71 68.34,271.43 69.01,272.26 69.70,273.04 70.40,273.39 71.14,273.13 71.90,273.63 72.62,274.12 73.37,274.16 74.15,274.57 74.94,274.39 75.74,274.94 76.55,275.22 77.37,274.99 78.19,275.30 79.00,276.24 79.81,276.26 80.60,276.59 81.46,276.53 82.32,276.90 83.18,277.18 84.04,277.38 84.90,276.81 85.76,277.53 86.62,277.37 87.48,277.89 88.34,277.67 89.20,278.04 90.07,278.49 90.96,278.30 91.85,278.04 92.75,278.35 93.64,278.32 94.53,278.82 95.40,278.25 96.26,278.29 97.09,278.62 97.90,278.16 98.78,278.60 99.50,278.93 100.15,278.52 100.79,278.29 101.52,278.43 102.41,278.45 103.54,278.05 105.00,277.96 105.57,277.94 106.18,278.06 106.82,278.13 107.50,277.99 108.21,277.91 108.95,277.74 109.71,278.11 110.50,278.34 111.31,278.09 112.14,278.01 112.98,278.04 113.84,277.59 114.70,278.00 115.58,277.73 116.46,277.76 117.34,277.77 118.23,277.60 119.11,277.41 119.99,277.30 120.85,277.23 121.71,277.45 122.56,277.28 123.39,277.42 124.20,276.86 125.00,277.12 125.81,277.54 126.61,276.93 127.41,277.18 128.22,277.07 129.02,276.85 129.82,277.43 130.63,276.77 131.43,277.15 132.24,276.56 133.04,276.43 133.85,277.11 134.66,276.68 135.46,276.29 136.27,276.54 137.07,276.54 137.88,276.76 138.68,276.15 139.48,276.20 140.29,276.82 141.09,276.57 141.89,275.99 142.70,276.10 143.50,276.07 144.30,276.31 145.10,276.20 145.90,276.35 146.71,276.27 147.51,275.94 148.31,276.08 149.11,276.03 149.91,275.99 150.71,275.67 151.51,275.89 152.31,275.76 153.11,275.89 153.91,275.12 154.71,275.73 155.50,274.88 156.30,275.51 157.10,275.29 157.90,275.15 158.70,275.51 159.50,275.10 160.30,274.90 161.10,275.17 161.90,275.19 162.70,274.90 163.50,274.64 164.31,274.64 165.12,274.59 165.93,274.78 166.74,274.33 167.55,274.37 168.37,274.46 169.19,274.25 170.00,274.14 170.82,274.50 171.63,274.51 172.44,274.14 173.25,274.03 174.06,273.75 174.87,273.80 175.67,273.60 176.47,273.94 177.26,273.89 178.05,273.39 178.83,274.09 179.61,273.50 180.38,273.91 181.14,273.86 181.90,273.91 182.77,273.17 183.67,273.31 184.58,273.68 185.51,272.81 186.45,272.77 187.39,273.17 188.33,273.05 189.27,273.36 190.19,273.16 191.10,272.89 191.99,273.24 192.86,272.74 193.70,272.68 194.50,272.77 195.27,272.45 195.99,272.37 196.67,272.54 197.29,272.27 197.86,272.77 198.36,272.49 198.80,272.30"/>
<polyline class="c" points="41.00,231.20 41.37,231.02 42.50,231.74 42.77,232.40 43.08,232.90 43.43,233.57 43.80,234.17 44.20,235.08 44.61,235.83 45.05,236.11 45.49,236.82 45.95,237.75 46.40,238.88 46.86,239.09 47.31,240.08 47.76,241.15 48.19,241.39 48.60,242.34 48.94,243.61 49.27,244.18 49.60,244.61 49.94,244.99 50.27,246.44 50.60,247.02 50.94,247.90 51.27,248.84 51.60,249.53 51.93,249.90 52.26,250.46 52.60,251.38 52.93,252.38 53.26,253.17 53.60,253.67 53.93,254.46 54.26,255.64 54.60,256.39 54.94,256.94 55.27,258.29 55.60,258.75 55.93,259.00 56.26,260.12 56.60,261.25 56.93,261.61 57.26,262.74 57.59,262.91 57.93,263.96 58.27,265.23 58.60,265.77 58.94,266.62 59.29,266.96 59.64,267.98 59.99,268.78 60.34,269.26 60.70,270.33 61.08,271.00 61.47,272.20 61.86,272.61 62.25,273.26 62.64,273.79 63.04,274.61 63.44,275.93 63.84,276.12 64.25,276.87 64.65,277.67 65.07,278.70 65.48,279.66 65.90,280.13 66.32,280.93 66.74,280.85 67.17,281.36 67.60,282.54 68.27,282.82 68.95,283.75 69.64,283.90 70.34,284.14 71.04,284.57 71.75,284.72 72.47,285.72 73.19,285.71 73.92,285.78 74.66,286.19 75.40,286.50 76.09,286.56 76.79,287.68 77.49,287.77 78.20,288.48 78.92,288.38 79.64,288.91 80.37,288.94 81.10,289.13 81.82,290.29 82.55,290.59 83.28,290.47 84.00,291.36 84.72,291.65 85.45,291.57 86.17,292.21 86.90,292.92 87.62,292.88 88.35,293.67 89.08,293.40 89.80,293.90 90.53,294.54 91.25,294.43 91.98,294.83 92.70,295.64 93.50,295.60 94.34,296.17 95.19,295.97 96.04,296.19 96.89,296.62 97.73,296.71 98.54,297.64 99.31,297.24 100.04,297.66 100.70,297.42 101.30,297.93 102.43,297.94 103.09,297.86 103.77,297.44 105.00,297.56 105.56,298.29 106.15,297.97 106.76,298.01 107.41,298.11 108.10,298.36 108.83,298.49 109.62,298.49 110.47,299.24 111.39,299.14 112.38,299.15 113.45,299.82 114.60,299.43 115.22,299.67 115.86,300.26 116.53,299.71 117.23,300.07 117.96,300.51 118.70,300.56 119.47,300.06 120.25,300.32 121.05,300.73 121.87,300.51 122.70,301.11 123.54,300.52 124.39,301.27 125.24,300.95 126.10,300.78 126.97,301.06 127.84,300.85 128.70,301.45 129.57,301.12 130.43,301.77 131.29,301.57 132.13,301.44 132.97,301.40 133.80,301.80 134.60,301.51 135.44,302.16 136.29,301.55 137.17,301.96 138.07,302.05 138.98,301.86 139.90,302.37 140.82,302.08 141.75,302.38 142.68,302.35 143.61,302.17 144.52,302.30 145.43,302.08 146.31,302.21 147.18,302.87 148.03,302.45 148.85,302.81 149.64,302.36 150.39,302.82 151.11,302.70 151.78,302.88 152.42,302.75 153.00,302.60 153.53,302.87 154.00,302.85 155.49,303.25 154.95,304.28 156.00,304.40 156.50,304.59 157.06,305.13 157.70,305.09 158.39,305.27 159.14,305.34 159.93,304.77 160.76,304.99 161.62,304.85 162.52,305.52 163.43,305.60 164.36,305.40 165.30,305.54 166.23,305.85 167.17,305.96 168.09,305.63 168.99,306.25 169.87,305.87 170.72,306.19 171.53,305.85 172.30,305.85 173.22,306.64 174.12,306.55 175.01,306.59 175.88,306.05 176.74,306.11 177.59,306.27 178.43,306.36 179.26,306.50 180.08,306.61 180.90,306.34 181.71,306.62 182.53,306.95 183.34,306.56 184.16,307.18 184.98,306.95 185.80,307.09 186.65,306.68 187.54,306.84 188.45,307.05 189.39,306.73 190.34,306.39 191.28,307.11 192.22,307.03 193.14,306.55 194.04,306.30 194.90,306.99 195.71,306.73 196.48,306.19 197.17,306.34 197.80,306.19 198.35,306.78 198.80,306.50"/>
<text class="L" x="259" y="210.2">Bii</text>
<text class="t" transform="translate(274.5,351.8) rotate(-90)" style="font-size:9.6px">% of Aggregation</text>
<g class="t" text-anchor="end">
<text x="295" y="261.5">120</text>
<text x="295" y="278.9">100</text>
<text x="294" y="297.1">80</text>
<text x="294" y="314.8">60</text>
<text x="294" y="333">40</text>
<text x="294" y="351.3">20</text>
<text x="293.5" y="364.8">0</text>
</g>
<path class="ax" d="M298.9,259.5 V360.5 M299.4,358.5 H446.3 M296.7,259.5 H298.9 M296.7,276.5 H298.9 M296.7,293.3 H298.9 M296.7,310.2 H298.9 M296.7,327.1 H298.9 M296.7,343.9 H298.9 M296.7,360.5 H298.9 M320.4,358.5 V360.7 M341.2,358.5 V360.7 M362.4,358.5 V360.7 M383.2,358.5 V360.7 M404.5,358.5 V360.7 M425.6,358.5 V360.7 M446.3,358.5 V360.7"/>
<rect class="bar" x="305.5" y="276.8" width="8.7" height="81.7"/>
<rect class="bar" x="326.5" y="278.5" width="8.8" height="80.0"/>
<path class="eb" d="M330.9,278.5 V273.5"/>
<rect class="bar" x="347.8" y="316.5" width="8.7" height="42.0"/>
<path class="eb" d="M352.2,316.5 V298"/>
<polygon points="352.15,293.30 352.86,294.83 354.53,295.03 353.29,296.17 353.62,297.82 352.15,297.00 350.68,297.82 351.01,296.17 349.77,295.03 351.44,294.83" fill="#999" stroke="#555" stroke-width="0.7" stroke-linejoin="round"/>
<rect class="bar" x="368.8" y="335.4" width="8.7" height="23.1"/>
<path class="eb" d="M373.2,335.4 V317.7"/>
<polygon points="373.15,311.90 373.86,313.43 375.53,313.63 374.29,314.77 374.62,316.42 373.15,315.60 371.68,316.42 372.01,314.77 370.77,313.63 372.44,313.43" fill="#999" stroke="#555" stroke-width="0.7" stroke-linejoin="round"/>
<rect class="bar" x="390.1" y="340.6" width="8.3" height="17.9"/>
<path class="eb" d="M394.2,340.6 V321.5"/>
<polygon points="394.25,315.00 394.96,316.53 396.63,316.73 395.39,317.87 395.72,319.52 394.25,318.70 392.78,319.52 393.11,317.87 391.87,316.73 393.54,316.53" fill="#999" stroke="#555" stroke-width="0.7" stroke-linejoin="round"/>
<rect class="bar" x="410.9" y="347.2" width="8.6" height="11.3"/>
<path class="eb" d="M415.2,347.2 V332.8"/>
<polygon points="415.20,327.10 415.91,328.63 417.58,328.83 416.34,329.97 416.67,331.62 415.20,330.80 413.73,331.62 414.06,329.97 412.82,328.83 414.49,328.63" fill="#999" stroke="#555" stroke-width="0.7" stroke-linejoin="round"/>
<rect class="bar" x="432.2" y="357" width="9" height="1.5"/>
<path class="eb" d="M436.7,357 V352.7"/>
<polygon points="434.30,348.90 435.01,350.43 436.68,350.63 435.44,351.77 435.77,353.42 434.30,352.60 432.83,353.42 433.16,351.77 431.92,350.63 433.59,350.43" fill="#999" stroke="#555" stroke-width="0.7" stroke-linejoin="round"/><polygon points="439.10,348.90 439.81,350.43 441.48,350.63 440.24,351.77 440.57,353.42 439.10,352.60 437.63,353.42 437.96,351.77 436.72,350.63 438.39,350.43" fill="#999" stroke="#555" stroke-width="0.7" stroke-linejoin="round"/>
<g class="t" text-anchor="middle">
<text x="310.2" y="367.8">0</text>
<text x="329.6" y="367.8">5</text>
<text x="352.2" y="367.8">10</text>
<text x="373" y="367.8">20</text>
<text x="394" y="367">30</text>
<text x="414.7" y="367">40</text>
<text x="436.8" y="368.2">50</text>
</g>
<text class="t" x="343.3" y="380.9">[T0901317] (&#956;M)</text>
<text class="L" x="2.5" y="395.3">Ci</text>
<text class="t" x="34.3" y="411.5">[Collagen] 5 &#956;g/ml</text>
<text class="t" x="196.6" y="411.5">[GW3965]</text>
<text class="t" x="206.8" y="419.6">(&#956;M)</text>
<text class="t" x="215.8" y="463">20</text>
<text class="t" x="218.1" y="530.7">0</text>
<text class="t" transform="translate(17,537.9) rotate(-90)" style="font-size:9.6px">Increase in light transmission</text>
<text class="t" x="106.2" y="556.5">360 s</text>
<path class="axT" d="M21.55,410.5 V544.8 H198.6"/>
<polyline class="c" points="22.70,420.00 23.24,419.73 23.95,420.33 24.81,420.15 25.77,419.51 26.79,420.02 27.82,419.72 28.83,420.04 29.78,420.14 30.61,419.70 31.30,419.63 32.28,420.75 32.95,420.77 33.46,421.79 33.99,422.15 34.70,422.71 35.34,423.11 36.03,423.20 36.76,423.30 37.52,423.21 38.30,424.09 39.10,424.20 39.90,424.71 40.53,425.48 41.18,425.20 41.84,426.24 42.51,426.09 43.19,427.21 43.87,427.84 44.55,427.89 45.23,428.70 45.90,429.62 46.57,429.87 47.23,430.33 47.90,430.63 48.57,431.02 49.23,431.87 49.90,432.50 50.57,432.91 51.23,433.61 51.90,434.07 52.51,435.17 53.13,435.75 53.75,436.00 54.38,436.65 55.00,437.55 55.62,438.13 56.22,439.19 56.80,439.25 57.36,439.74 57.90,440.75 58.69,440.74 59.37,441.65 60.01,441.89 60.66,442.74 61.41,442.94 62.30,443.63 62.92,443.45 63.58,444.26 64.28,444.57 65.01,444.83 65.77,445.49 66.55,445.93 67.35,445.67 68.16,446.20 68.98,446.63 69.80,446.84 70.56,447.01 71.33,447.50 72.12,447.72 72.93,448.46 73.75,448.51 74.57,448.48 75.40,448.94 76.23,449.33 77.06,449.49 77.88,449.56 78.70,449.71 79.53,449.89 80.39,451.01 81.27,451.02 82.16,450.63 83.05,451.42 83.92,451.86 84.77,451.68 85.58,451.46 86.35,451.97 87.06,452.09 87.70,452.02 88.75,452.57 89.41,452.22 89.99,453.15 90.75,453.08 92.00,453.41 92.57,453.86 93.21,453.81 93.92,453.67 94.68,453.91 95.49,454.08 96.32,454.25 97.18,455.21 98.05,455.55 98.91,455.34 99.77,455.51 100.60,456.18 101.40,456.62 102.16,456.91 102.86,456.43 103.50,457.16 104.54,457.45 105.45,457.58 106.25,457.36 106.99,457.35 107.69,458.02 108.41,457.63 109.16,457.73 110.00,457.95 110.78,457.80 111.56,458.19 112.34,457.61 113.13,457.37 113.95,457.77 114.81,457.77 115.71,457.91 116.67,457.82 117.70,458.06 118.39,458.18 119.08,457.88 119.77,458.01 120.48,457.85 121.21,458.14 121.95,458.56 122.72,458.28 123.53,459.01 124.36,458.70 125.23,459.11 126.15,459.73 127.11,459.06 128.13,459.12 129.20,459.55 129.86,459.35 130.54,459.84 131.24,459.21 131.97,459.96 132.71,459.97 133.48,459.90 134.26,459.55 135.06,459.40 135.87,459.72 136.69,459.56 137.53,459.44 138.37,459.34 139.22,459.39 140.07,459.56 140.93,459.67 141.79,459.71 142.64,459.01 143.50,459.10 144.35,459.21 145.20,459.29 146.04,459.08 146.87,458.93 147.69,458.83 148.50,459.04 149.31,459.17 150.13,459.64 150.97,459.60 151.82,459.57 152.67,459.69 153.53,459.70 154.40,459.42 155.26,459.61 156.13,458.96 156.99,459.55 157.85,459.52 158.71,459.27 159.55,459.55 160.39,459.92 161.21,459.53 162.01,459.71 162.81,459.43 163.58,459.50 164.33,460.02 165.06,459.28 165.76,459.45 166.44,459.91 167.08,459.73 167.70,459.43 168.81,459.99 169.74,459.77 170.55,460.00 171.26,459.89 171.89,460.03 172.50,460.10 173.11,459.98 173.74,459.76 174.45,459.85 175.26,460.51 176.19,460.22 177.30,459.85 177.96,460.53 178.69,459.99 179.47,459.86 180.31,460.25 181.19,460.00 182.11,460.22 183.06,460.28 184.03,459.98 185.01,460.29 186.01,459.88 187.00,460.24 187.99,460.30 188.97,459.84 189.93,460.14 190.86,459.83 191.76,460.16 192.62,460.54 193.43,460.25 194.18,460.40 194.87,460.43 195.49,459.85 196.04,460.64 196.50,460.20"/>
<polyline class="c" points="31.30,420.00 31.81,420.62 32.53,420.67 33.20,422.00 33.70,422.08 34.16,422.43 34.70,424.41 34.88,424.61 35.06,425.42 35.25,425.54 35.45,426.87 35.66,427.03 35.87,428.04 36.09,429.04 36.31,429.63 36.53,431.09 36.77,431.69 37.00,432.72 37.18,433.80 37.36,434.29 37.54,435.48 37.73,436.03 37.92,437.06 38.11,437.61 38.31,438.76 38.51,439.56 38.70,439.77 38.90,441.12 39.10,441.59 39.30,442.79 39.50,443.52 39.70,444.43 39.90,444.56 40.13,445.64 40.36,446.82 40.59,447.84 40.82,448.46 41.05,448.67 41.28,449.98 41.51,450.33 41.74,451.52 41.97,452.53 42.21,452.68 42.44,454.18 42.67,454.71 42.90,455.08 43.17,455.89 43.43,456.95 43.68,458.12 43.93,458.69 44.18,459.06 44.43,459.76 44.70,460.63 44.97,462.05 45.26,462.31 45.57,463.48 45.90,464.11 46.18,465.17 46.46,465.62 46.77,466.14 47.08,467.55 47.40,468.00 47.72,468.90 48.06,469.78 48.39,470.67 48.73,470.59 49.07,471.65 49.41,472.22 49.74,473.28 50.08,474.33 50.40,474.97 50.78,475.08 51.15,476.00 51.53,477.34 51.90,477.97 52.28,478.46 52.66,479.27 53.03,479.72 53.41,481.07 53.78,481.39 54.16,482.56 54.53,483.06 54.90,483.32 55.27,484.30 55.66,484.95 56.04,486.32 56.43,486.81 56.81,487.08 57.19,487.95 57.57,488.87 57.94,489.71 58.30,490.55 58.65,491.10 58.98,491.78 59.30,492.16 59.65,493.49 59.97,494.07 60.26,494.57 60.53,495.74 60.79,496.98 61.06,496.87 61.33,497.69 61.63,498.88 61.95,499.22 62.30,499.90 62.73,500.83 63.17,501.33 63.63,502.30 64.11,502.93 64.61,503.97 65.13,504.64 65.67,504.39 66.23,505.47 66.80,506.24 67.39,506.90 68.01,507.34 68.64,507.72 69.29,508.22 69.96,508.45 70.64,508.86 71.34,509.79 72.06,510.34 72.80,510.89 73.48,511.12 74.19,511.25 74.91,512.13 75.65,512.59 76.41,512.85 77.17,513.43 77.93,513.63 78.69,514.24 79.45,514.53 80.20,514.60 80.93,515.22 81.65,515.55 82.36,516.47 83.07,516.32 83.79,516.51 84.52,516.68 85.26,516.95 86.04,517.33 86.85,517.40 87.70,517.56 88.45,518.56 89.23,518.39 90.03,518.60 90.86,518.91 91.71,518.87 92.57,518.95 93.44,519.05 94.30,519.45 95.17,519.65 96.03,520.22 96.87,520.25 97.70,520.79 98.54,520.46 99.40,521.19 100.29,521.10 101.19,520.87 102.08,521.17 102.96,521.75 103.81,522.32 104.63,521.95 105.39,522.51 106.10,522.36 106.74,522.91 107.30,522.31 108.10,522.88 108.13,523.24 110.00,522.90 110.48,522.95 111.02,522.81 111.61,523.02 112.24,523.20 112.92,523.69 113.64,523.35 114.39,523.62 115.17,523.55 115.99,524.03 116.83,524.38 117.68,524.31 118.56,524.02 119.45,524.63 120.36,524.95 121.27,524.75 122.18,524.40 123.10,525.17 124.01,525.35 124.91,524.98 125.80,524.90 126.68,525.05 127.54,525.46 128.38,525.85 129.20,525.73 130.00,526.06 130.81,525.49 131.61,525.66 132.41,526.11 133.22,526.08 134.02,525.92 134.82,526.22 135.63,525.97 136.43,525.76 137.24,526.13 138.04,525.85 138.85,526.42 139.66,526.20 140.46,526.39 141.27,526.53 142.07,526.27 142.88,526.50 143.68,526.14 144.48,527.01 145.29,526.74 146.09,527.17 146.89,526.39 147.70,526.94 148.50,527.10 149.30,526.81 150.10,526.66 150.90,526.78 151.71,526.84 152.51,527.47 153.31,526.94 154.11,527.66 154.91,527.38 155.71,527.56 156.51,527.68 157.31,527.73 158.11,527.89 158.91,527.91 159.71,527.74 160.50,528.18 161.30,527.82 162.10,528.30 162.90,528.41 163.70,528.48 164.50,528.12 165.30,528.60 166.10,528.83 166.90,528.41 167.70,528.30 168.51,528.56 169.33,528.98 170.17,528.29 171.01,528.22 171.86,528.67 172.73,528.87 173.59,529.00 174.46,528.66 175.32,529.25 176.19,528.59 177.05,529.09 177.90,528.51 178.75,528.48 179.58,528.59 180.40,528.54 181.21,528.95 182.00,529.01 182.78,528.68 183.53,529.38 184.26,528.87 184.96,528.68 185.64,528.71 186.28,529.21 186.90,529.38 188.07,528.69 189.17,528.54 190.20,529.18 191.17,528.66 192.07,529.27 192.90,528.78 193.67,528.85 194.37,528.53 195.00,528.88 195.57,528.53 196.07,528.37 196.50,528.50"/>
<text class="L" x="258.5" y="395.5">Cii</text>
<text class="t" x="309.5" y="412.5">[Collagen] 25 &#956;g/ml</text>
<text class="t" x="472.6" y="412.7">[GW3965]</text>
<text class="t" x="483.4" y="421">(&#956;M)</text>
<text class="t" x="490.4" y="524.8">20</text>
<text class="t" x="493.4" y="544.8">0</text>
<text class="t" transform="translate(294.4,540.7) rotate(-90)" style="font-size:9.6px">Increase in light transmission</text>
<text class="t" x="383.6" y="558.3">360 s</text>
<path class="axT" d="M297.6,412.6 V546.9 H473.8"/>
<polyline class="c" points="298.10,423.20 298.75,423.60 299.69,422.92 300.75,423.54 301.81,423.07 302.70,423.83 303.58,424.05 304.35,425.03 305.04,424.99 305.70,426.26 306.11,426.75 306.49,427.93 306.84,428.73 307.19,429.24 307.54,429.68 307.90,430.48 308.28,431.25 308.66,432.17 309.05,432.76 309.44,433.49 309.82,434.73 310.20,435.33 310.63,435.77 311.05,437.07 311.47,437.04 311.91,438.09 312.40,438.59 312.73,439.85 313.06,440.50 313.40,440.64 313.76,441.80 314.13,442.63 314.53,442.95 314.95,443.84 315.40,444.89 315.72,445.89 316.06,445.89 316.42,447.05 316.79,447.68 317.17,448.28 317.56,449.14 317.95,450.18 318.34,450.35 318.74,451.74 319.13,452.06 319.52,453.24 319.90,454.13 320.22,454.22 320.54,455.57 320.87,456.45 321.19,456.59 321.51,457.13 321.83,458.00 322.16,459.57 322.48,459.49 322.80,461.08 323.12,461.17 323.44,462.44 323.76,462.59 324.08,463.34 324.40,464.46 324.84,464.80 325.28,465.83 325.72,467.12 326.16,467.67 326.60,468.53 327.04,469.31 327.48,469.15 327.92,470.02 328.36,471.23 328.80,471.87 329.25,472.03 329.69,473.21 330.14,473.73 330.59,474.67 331.04,475.14 331.50,475.82 331.95,477.45 332.40,477.58 332.85,478.82 333.30,478.86 333.74,479.89 334.18,480.25 334.60,481.18 335.03,481.61 335.46,482.72 335.89,482.88 336.34,484.07 336.80,484.52 337.29,484.85 337.80,485.77 338.25,486.50 338.71,487.52 339.20,487.65 339.69,488.20 340.20,489.54 340.71,490.13 341.23,490.66 341.75,490.89 342.27,491.43 342.79,492.10 343.30,492.49 343.80,492.99 344.46,494.04 345.12,494.52 345.77,495.18 346.42,495.49 347.08,495.63 347.73,496.69 348.38,497.10 349.04,497.46 349.70,497.94 350.33,498.55 350.93,499.28 351.50,499.64 352.07,499.96 352.67,500.14 353.31,500.54 354.02,501.13 354.80,502.16 355.70,502.20 356.26,502.54 356.85,502.93 357.47,503.07 358.12,504.24 358.80,503.75 359.50,504.71 360.22,505.42 360.95,505.24 361.69,505.98 362.44,506.19 363.20,506.48 363.95,506.83 364.70,507.14 365.45,508.16 366.18,508.44 366.90,508.87 367.67,508.41 368.47,509.29 369.28,509.24 370.10,509.80 370.93,509.97 371.76,510.00 372.58,510.82 373.40,510.17 374.21,511.05 375.00,511.35 375.76,511.23 376.50,511.49 377.21,512.02 377.87,511.50 378.50,512.02 379.54,512.37 380.41,512.24 381.17,512.69 381.87,512.52 382.56,512.75 383.28,512.93 384.07,513.11 385.00,512.94 385.69,513.33 386.42,513.36 387.18,513.19 387.97,513.65 388.78,513.45 389.61,514.15 390.44,513.88 391.29,514.23 392.13,514.18 392.96,514.28 393.79,514.20 394.60,514.28 395.40,515.15 396.20,514.97 397.00,515.15 397.80,515.35 398.60,515.80 399.40,515.49 400.20,515.63 401.00,516.42 401.80,516.30 402.60,516.66 403.40,517.01 404.20,517.25 405.00,517.41 405.80,516.84 406.60,517.32 407.40,517.90 408.19,518.05 408.99,517.59 409.79,517.78 410.59,518.02 411.39,518.04 412.19,518.41 413.00,518.95 413.80,518.82 414.59,518.87 415.35,518.65 416.09,519.02 416.82,519.65 417.55,519.46 418.29,519.31 419.06,519.41 419.85,519.77 420.68,519.80 421.56,519.33 422.50,519.88 423.50,519.68 424.18,519.87 424.88,519.67 425.62,519.85 426.39,519.88 427.17,519.97 427.98,519.70 428.80,519.92 429.64,520.32 430.49,519.91 431.34,520.08 432.20,520.62 433.06,520.27 433.91,520.37 434.76,520.35 435.60,520.93 436.43,520.31 437.24,520.84 438.03,521.08 438.80,520.53 439.68,520.77 440.53,521.14 441.36,521.02 442.17,520.82 442.96,520.56 443.74,520.94 444.52,520.89 445.31,521.22 446.10,520.87 446.90,520.99 447.72,521.22 448.57,521.39 449.44,520.99 450.35,521.05 451.30,521.24 452.30,521.58 453.01,520.94 453.76,521.66 454.56,521.45 455.39,521.17 456.26,521.46 457.15,521.18 458.06,520.97 458.99,521.61 459.93,521.29 460.87,521.45 461.81,521.45 462.74,521.84 463.67,521.73 464.57,521.10 465.46,521.63 466.31,521.53 467.13,521.55 467.92,521.91 468.66,521.55 469.35,521.62 469.98,522.01 470.55,521.62 471.06,521.68 471.50,521.70"/>
<polyline class="c" points="309.50,433.00 309.68,433.56 309.92,434.59 310.21,435.36 310.54,436.47 310.90,437.31 311.12,437.67 311.37,438.96 311.63,439.61 311.90,440.60 312.18,441.44 312.46,441.73 312.73,442.73 312.97,443.54 313.20,445.19 313.34,445.25 313.47,446.00 313.59,447.39 313.70,448.04 313.80,448.42 313.91,449.84 314.01,450.72 314.11,451.36 314.21,451.82 314.32,453.21 314.44,453.76 314.56,454.66 314.70,455.75 314.91,456.54 315.13,457.47 315.35,457.64 315.59,458.61 315.83,459.55 316.08,459.86 316.34,461.53 316.62,461.72 316.90,462.59 317.14,463.38 317.38,464.07 317.62,465.37 317.87,465.85 318.13,466.59 318.39,467.29 318.66,467.77 318.95,468.84 319.25,470.20 319.57,471.04 319.90,472.02 320.14,472.15 320.40,472.79 320.66,473.38 320.94,474.55 321.22,475.16 321.51,476.01 321.81,476.81 322.11,477.68 322.41,478.27 322.71,479.45 323.00,479.69 323.30,481.12 323.58,481.56 323.87,481.85 324.14,482.82 324.40,483.73 324.71,484.47 325.00,485.45 325.28,486.05 325.55,486.81 325.81,488.08 326.08,488.41 326.34,489.57 326.60,490.44 326.88,491.03 327.16,491.69 327.46,492.90 327.77,493.25 328.10,494.44 328.42,494.45 328.74,495.54 329.07,496.47 329.41,496.69 329.75,498.17 330.10,498.21 330.46,499.44 330.83,499.81 331.21,501.23 331.60,501.66 332.01,502.63 332.42,503.10 332.85,504.01 333.30,504.76 333.71,505.07 334.13,505.66 334.57,506.90 335.02,506.96 335.48,508.33 335.95,508.37 336.43,508.95 336.91,509.62 337.40,510.91 337.89,511.72 338.39,511.89 338.88,512.75 339.37,513.01 339.85,514.20 340.33,514.60 340.80,514.69 341.37,515.28 341.94,516.52 342.51,516.58 343.08,517.92 343.65,518.05 344.22,518.59 344.78,519.48 345.35,519.80 345.92,520.56 346.49,520.72 347.06,521.91 347.63,521.87 348.20,522.81 348.95,522.76 349.70,523.87 350.45,524.51 351.20,524.43 351.95,524.54 352.70,525.26 353.45,525.89 354.20,525.92 354.95,526.62 355.70,526.63 356.43,527.40 357.12,528.08 357.80,528.24 358.47,528.90 359.15,528.82 359.85,529.89 360.58,529.67 361.36,530.80 362.19,531.26 363.10,531.60 363.80,531.50 364.54,531.56 365.31,531.88 366.12,532.52 366.95,532.56 367.80,533.22 368.66,532.72 369.53,533.33 370.41,533.91 371.27,533.90 372.13,534.07 372.98,533.87 373.80,534.10 374.60,534.39 375.44,535.12 376.27,535.21 377.09,534.77 377.91,535.49 378.72,534.77 379.52,535.35 380.32,535.75 381.11,535.25 381.90,535.85 382.68,535.66 383.46,535.19 384.23,535.54 385.00,535.75 385.83,535.71 386.65,536.30 387.46,535.95 388.26,536.66 389.06,536.39 389.85,536.36 390.64,536.97 391.43,536.72 392.22,537.30 393.01,537.67 393.80,537.65 394.60,537.67 395.37,537.41 396.09,537.96 396.77,537.69 397.44,538.28 398.11,537.92 398.79,538.41 399.51,538.31 400.28,538.42 401.12,538.79 402.04,538.45 403.06,538.57 404.20,539.40 404.82,538.92 405.47,539.46 406.15,539.57 406.86,539.30 407.59,539.09 408.35,539.13 409.12,539.93 409.92,539.34 410.73,539.78 411.56,539.92 412.40,539.64 413.25,540.05 414.11,539.88 414.97,540.30 415.84,540.37 416.71,540.34 417.59,540.27 418.45,540.54 419.32,540.43 420.18,540.44 421.03,540.61 421.86,541.24 422.69,540.96 423.50,541.35 424.34,540.60 425.17,541.47 426.01,541.09 426.85,541.39 427.68,541.20 428.52,541.32 429.35,540.92 430.19,541.39 431.02,540.85 431.85,540.95 432.69,540.73 433.52,541.05 434.36,541.15 435.19,540.93 436.03,541.46 436.86,540.72 437.69,541.15 438.53,540.82 439.36,541.13 440.20,541.29 441.03,541.21 441.87,540.62 442.70,540.77 443.51,541.08 444.33,541.41 445.17,540.55 446.01,541.06 446.86,541.11 447.73,541.21 448.59,540.76 449.46,541.17 450.32,540.84 451.19,541.23 452.05,540.39 452.90,541.21 453.75,540.71 454.58,540.69 455.40,540.38 456.21,540.50 457.00,540.92 457.77,540.86 458.53,540.36 459.26,540.52 459.96,540.32 460.64,540.36 461.28,540.36 461.90,540.45 463.07,541.00 464.17,541.00 465.20,540.79 466.17,540.49 467.07,540.49 467.90,540.73 468.67,540.83 469.37,540.67 470.00,540.55 470.57,540.15 471.07,540.52 471.50,540.40"/>
<text class="L" x="1.5" y="591.6">Ciii</text>
<text class="t" transform="translate(19.5,723.5) rotate(-90)" style="font-size:9.9px">Amplitude of Aggregation (cm)</text>
<g class="t" text-anchor="end">
<text x="31.6" y="606.5">12</text>
<text x="31.6" y="623.5">10</text>
<text x="29.5" y="640.4">8</text>
<text x="29.5" y="656.5">6</text>
<text x="29.5" y="674.3">4</text>
<text x="29.5" y="690.8">2</text>
<text x="29.5" y="708.5">0</text>
</g>
<g class="t" text-anchor="middle">
<text x="34.6" y="715.8">0</text>
<text x="68" y="716.8">5</text>
<text x="99.6" y="716.8">10</text>
<text x="132.1" y="716.8">15</text>
<text x="164.5" y="716.8">20</text>
<text x="196.7" y="716.8">25</text>
</g>
<text class="t" x="87.4" y="730.5">[Collagen] (&#956;g/ml)</text>
<path class="ax" d="M35.8,603 V705.4 H201.5 M33.2,603 H35.8 M33.2,620.1 H35.8 M33.2,637.3 H35.8 M33.2,654.4 H35.8 M33.2,671.5 H35.8 M33.2,688.7 H35.8 M67.2,705.4 V707.5 M99.5,705.4 V707.5 M132.1,705.4 V707.5 M164.4,705.4 V707.5 M196.4,705.4 V707.5"/>
<text class="t" x="196" y="602.5">[GW3965]</text>
<text class="t" x="206.7" y="610.6">(&#956;M)</text>
<text class="t" x="218.6" y="628.1">0</text>
<text class="t" x="215.4" y="657.3">20</text>
<path fill="none" stroke="#7a7a7a" stroke-width="1.3" d="M35.6,705.4 L39,705.2 M38.4,705.4 V691.9 M37.4,691.9 H40.6 M41.4,701 C48,696.8 55,692.5 60,689.4 C63,687.8 65.5,686.8 67.8,685.7 C78,681.5 95,676.2 116.2,672.1 C135,667.5 160,661.8 175.4,659.1 C185,657 191,655.4 196.1,653.9 M67.8,685.7 V681.6 M66.6,681.6 H69 M116.2,672.1 V667.8 M115,667.8 H117.4"/>
<circle cx="41.4" cy="701" r="1.8" fill="#7a7a7a"/>
<circle cx="67.8" cy="685.7" r="1.8" fill="#7a7a7a"/>
<circle cx="116.2" cy="672.1" r="1.8" fill="#7a7a7a"/>
<circle cx="196.1" cy="653.9" r="1.9" fill="#7a7a7a"/>
<circle cx="36" cy="705.2" r="1.8" fill="#7a7a7a"/>
<path fill="none" stroke="#333" stroke-width="1" d="M41.4,700 V697.2 M40.4,697.2 H42.4"/>
<rect x="33.8" y="684.3" width="3" height="3.6" fill="none" stroke="#888" stroke-width="0.8"/>
<polygon points="34.60,683.70 35.22,685.15 36.79,685.29 35.60,686.32 35.95,687.86 34.60,687.05 33.25,687.86 33.60,686.32 32.41,685.29 33.98,685.15" fill="#999" stroke="#666" stroke-width="0.7" stroke-linejoin="round"/><polygon points="39.80,683.70 40.42,685.15 41.99,685.29 40.80,686.32 41.15,687.86 39.80,687.05 38.45,687.86 38.80,686.32 37.61,685.29 39.18,685.15" fill="#999" stroke="#666" stroke-width="0.7" stroke-linejoin="round"/>
<polygon points="42.10,690.50 42.72,691.95 44.29,692.09 43.10,693.12 43.45,694.66 42.10,693.85 40.75,694.66 41.10,693.12 39.91,692.09 41.48,691.95" fill="#999" stroke="#666" stroke-width="0.7" stroke-linejoin="round"/><polygon points="47.50,690.50 48.12,691.95 49.69,692.09 48.50,693.12 48.85,694.66 47.50,693.85 46.15,694.66 46.50,693.12 45.31,692.09 46.88,691.95" fill="#999" stroke="#666" stroke-width="0.7" stroke-linejoin="round"/>
<polygon points="68.00,675.30 68.62,676.75 70.19,676.89 69.00,677.92 69.35,679.46 68.00,678.65 66.65,679.46 67.00,677.92 65.81,676.89 67.38,676.75" fill="#999" stroke="#666" stroke-width="0.7" stroke-linejoin="round"/>
<polygon points="117.00,661.70 117.62,663.15 119.19,663.29 118.00,664.32 118.35,665.86 117.00,665.05 115.65,665.86 116.00,664.32 114.81,663.29 116.38,663.15" fill="#999" stroke="#666" stroke-width="0.7" stroke-linejoin="round"/>
<polygon points="196.00,645.70 196.62,647.15 198.19,647.29 197.00,648.32 197.35,649.86 196.00,649.05 194.65,649.86 195.00,648.32 193.81,647.29 195.38,647.15" fill="#999" stroke="#666" stroke-width="0.7" stroke-linejoin="round"/>
<path fill="none" stroke="#111" stroke-width="1.7" stroke-linejoin="round" d="M35.7,705.6 L38.4,660 L39.9,646.3 L41.8,641.8 C45,639.5 50,635.8 53.8,634.2 C58,632 63,629.6 67.8,628 C80,624.5 95,623.3 116.2,623.1 C135,622.9 160,623.4 175.4,624.2 C185,624.7 191,625.1 196.3,625.3"/>
<path fill="none" stroke="#222" stroke-width="1" d="M41.8,642.4 V638.8 M40.6,638.8 H43 M67.8,628 V623.1 M66.6,623.1 H69 M116.2,623.1 V617.9 M115,617.9 H117.4"/>
<circle cx="41.8" cy="642" r="1.7" fill="#111"/>
<circle cx="38.4" cy="660.2" r="1.5" fill="#111"/>
<circle cx="67.8" cy="628" r="1.7" fill="#111"/>
<circle cx="116.2" cy="623.1" r="1.7" fill="#111"/>
<circle cx="196.3" cy="625.3" r="1.7" fill="#111"/>
<text class="L" x="257.9" y="592.3">D</text>
<text class="t" transform="translate(276.5,705.6) rotate(-90)" style="font-size:9.6px">Fluorescence (AU)</text>
<g class="t" text-anchor="end">
<text x="294.2" y="625">160</text>
<text x="294.2" y="647">120</text>
<text x="294.2" y="668.5">80</text>
<text x="294.2" y="689.5">40</text>
<text x="291.8" y="711.5">0</text>
</g>
<path class="ax" d="M297.4,622.3 V707.8 H443 M294.8,622.3 H297.4 M294.8,643.8 H297.4 M294.8,664.9 H297.4 M294.8,686.2 H297.4 M369.5,707.8 V709.8 M443,707.8 V709.8"/>
<rect class="bar" x="319" y="649" width="29.3" height="58.8"/>
<rect class="bar" x="391.8" y="678.9" width="29.2" height="28.9"/>
<path class="eb" d="M333.6,649 V629.8 M406.4,678.9 V672.6 M405,672.6 H407.8"/>
<path fill="none" stroke="#111" stroke-width="1.5" d="M335.1,617.8 H412"/>
<polygon points="369.40,608.80 370.16,610.55 372.06,610.73 370.64,612.00 371.05,613.87 369.40,612.90 367.75,613.87 368.16,612.00 366.74,610.73 368.64,610.55" fill="#999" stroke="#555" stroke-width="0.7" stroke-linejoin="round"/>
<text class="t" x="335.4" y="719" text-anchor="middle">0</text>
<text class="t" x="408.7" y="718.2" text-anchor="middle">25</text>
<text class="t" x="345" y="730.3">[GW3965] (&#956;M)</text>
</svg>
</body></html>
